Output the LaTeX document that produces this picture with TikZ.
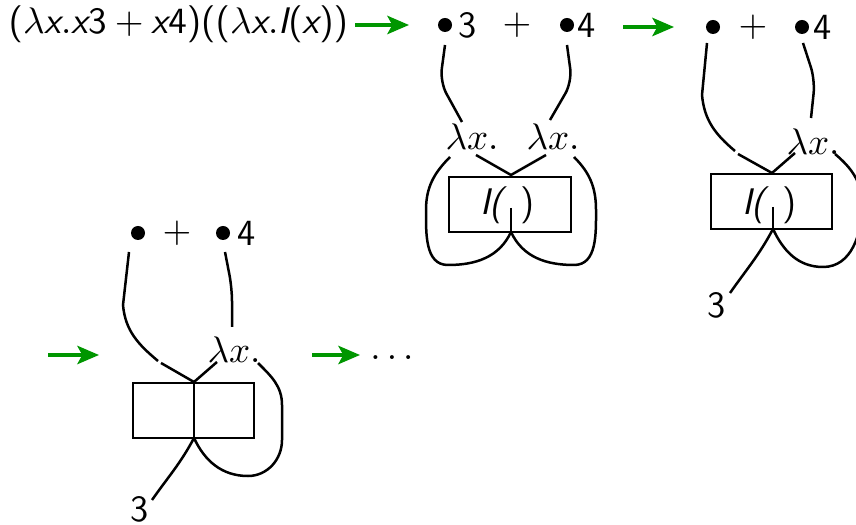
\RequirePackage{fix-cm}
\documentclass[tikz,border=0pt]{standalone}
\usetikzlibrary{arrows.meta}
\DeclareSymbolFont{operators}{OT1}{cmss}{m}{n}
\newcommand{\sfx}{\textsf{\slshape x}}
\newcommand{\sfI}{\textsf{\slshape I}}
\definecolor{arrgreen}{RGB}{0,150,0}
\tikzset{
  wire/.style={line width=0.75pt},
  boxst/.style={draw,line width=0.55pt},
  garrow/.style={draw=arrgreen,line width=1.1pt,-{Stealth[length=6.5pt,width=5.5pt,inset=1.5pt]}},
  lbl/.style={inner sep=0pt,font=\fontsize{11.1pt}{13pt}\selectfont\sffamily},
  dot/.style={circle,fill,inner sep=0pt,minimum size=4.2pt},
}
\begin{document}
\begin{tikzpicture}[x=0.3pt,y=-0.3pt]
\useasboundingbox (0,0) rectangle (856,525);
\clip (0,0) rectangle (856,525);
% top expression
\node[lbl,anchor=base west] (expr) at (8,34) {$(\lambda\sfx.\sfx3+\sfx4)((\lambda\sfx.\sfI(\sfx))$};
\coordinate (a1s) at (355,25); \coordinate (a1e) at (409,25);
\draw[garrow] (a1s) -- (a1e);
% ---------- diagram 1 ----------
\node[dot] (d1b1) at (445,25) {};
\node[lbl] (d1n3) at (468,25) {3};
\node[lbl] (d1p) at (517,25) {$+$};
\node[dot] (d1b2) at (567,25) {};
\node[lbl] (d1n4) at (587,25) {4};
\node[lbl] (d1l1) at (472,137) {$\lambda x.$};
\node[lbl] (d1l2) at (553,137) {$\lambda x.$};
\node[boxst,minimum width=36.6pt,minimum height=16.5pt,inner sep=0pt] (d1box) at (510,204.5) {};
\node[lbl] (d1ia) at (492,205) {\slshape I(};
\node[lbl] (d1ib) at (528,205) {)};
\coordinate (d1top) at (511,175);
\coordinate (d1bot) at (511,232);
\coordinate (d1stem) at (511,208);
\coordinate (d1w1s) at (445,45); \coordinate (d1w1e) at (462,122);
\coordinate (d1w2s) at (567,45); \coordinate (d1w2e) at (550,120);
\draw[wire,rounded corners=4pt] (d1w1s) -- (440,82) -- (d1w1e);
\draw[wire,rounded corners=4pt] (d1w2s) -- (572,82) -- (d1w2e);
\coordinate (d1l1a) at (476,155); \coordinate (d1l2a) at (546,155);
\draw[wire] (d1l1a) -- (d1top) -- (d1l2a);
\draw[wire] (d1stem) -- (d1bot);
\coordinate (d1l1b) at (450,157); \coordinate (d1l2b) at (574,157);
\draw[wire] (d1l1b) to[out=-135,in=90] (426,210) to[out=-90,in=180] (448,265) to[out=0,in=-115] (d1bot);
\draw[wire] (d1l2b) to[out=-45,in=90] (596,210) to[out=-90,in=0] (574,265) to[out=180,in=-65] (d1bot);
\coordinate (a2s) at (623,27); \coordinate (a2e) at (674,27);
\draw[garrow] (a2s) -- (a2e);
% ---------- diagram 2 ----------
\node[dot] (d2b1) at (713,27) {};
\node[lbl] (d2p) at (753,27) {$+$};
\node[dot] (d2b2) at (802,27) {};
\node[lbl] (d2n4) at (823,27) {4};
\node[lbl] (d2l) at (813,142) {$\lambda x.$};
\node[boxst,minimum width=36.3pt,minimum height=16.5pt,inner sep=0pt] (d2box) at (771.5,201.5) {};
\node[lbl] (d2ia) at (754,205) {\slshape I(};
\node[lbl] (d2ib) at (790,205) {)};
\coordinate (d2top) at (772,173);
\coordinate (d2bot) at (773,229);
\coordinate (d2stem) at (773,207);
\coordinate (d2w1s) at (707,43); \coordinate (d2w1e) at (735,151);
\coordinate (d2w1f) at (738,154);
\draw[wire] (d2w1s) -- (702,95) to[out=-85,in=140] (d2w1e);
\draw[wire] (d2w1f) -- (d2top);
\coordinate (d2w2s) at (803,43); \coordinate (d2w2e) at (811,118);
\draw[wire,rounded corners=4pt] (d2w2s) -- (815,80) -- (d2w2e);
\coordinate (d2la) at (795,153);
\draw[wire] (d2la) -- (d2top);
\draw[wire] (d2stem) -- (d2bot);
\coordinate (d2lb) at (835,154);
\draw[wire] (d2lb) to[out=-40,in=90] (862,205) to[out=-90,in=0] (823,267) to[out=180,in=-65] (d2bot);
\coordinate (d2n3a) at (730,293);
\draw[wire] (d2bot) to[out=-118,in=55] (d2n3a);
\node[lbl] (d2n3) at (717,305) {3};
% ---------- diagram 3 ----------
\coordinate (a3s) at (48,355); \coordinate (a3e) at (99,355);
\draw[garrow] (a3s) -- (a3e);
\node[dot] (d3b1) at (138,233) {};
\node[lbl] (d3p) at (177,233) {$+$};
\node[dot] (d3b2) at (223,233) {};
\node[lbl] (d3n4) at (247,233) {4};
\node[lbl] (d3l) at (234,350) {$\lambda x.$};
\node[boxst,minimum width=36.3pt,minimum height=16.5pt,inner sep=0pt] (d3box) at (193.5,410.5) {};
\coordinate (d3top) at (194,382);
\coordinate (d3bot) at (194,438);
\coordinate (d3mid) at (194,383);
\draw[wire] (d3mid) -- (d3bot);
\coordinate (d3w1s) at (129,252); \coordinate (d3w1e) at (158,361);
\coordinate (d3w1f) at (161,363);
\draw[wire] (d3w1s) -- (123,305) to[out=-85,in=140] (d3w1e);
\draw[wire] (d3w1f) -- (d3top);
\coordinate (d3w2s) at (225,252); \coordinate (d3w2e) at (232,327);
\draw[wire,rounded corners=4pt] (d3w2s) -- (232,288) -- (d3w2e);
\coordinate (d3la) at (217,362);
\draw[wire] (d3la) -- (d3top);
\coordinate (d3lb) at (258,363);
\draw[wire] (d3lb) to[out=-45,in=90] (282,405) -- (282,440) to[out=-90,in=0] (248,476) to[out=180,in=-65] (d3bot);
\coordinate (d3n3a) at (152,500);
\draw[wire] (d3bot) to[out=-118,in=55] (d3n3a);
\node[lbl] (d3n3) at (140,509) {3};
\coordinate (a4s) at (312,355); \coordinate (a4e) at (360,355);
\draw[garrow] (a4s) -- (a4e);
\node[lbl] (dots) at (392,358) {$\ldots$};
\end{tikzpicture}
\end{document}
